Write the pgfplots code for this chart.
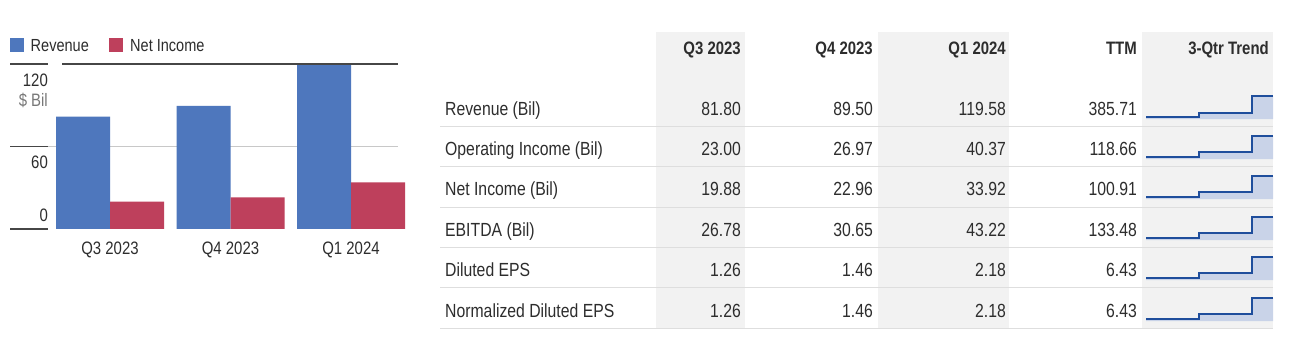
\documentclass[border=0pt]{standalone}
\usepackage{pgfplots}
\pgfplotsset{compat=1.18}
\usepackage{fontspec}
\setmainfont{Liberation Sans}[FakeStretch=0.83]
\definecolor{barblue}{RGB}{78,119,189}
\definecolor{barred}{RGB}{190,64,92}
\definecolor{gridgray}{RGB}{200,200,200}
\definecolor{darkrule}{RGB}{70,70,70}
\definecolor{txt}{RGB}{45,45,45}
\definecolor{subtxt}{RGB}{120,120,120}
\definecolor{colshade}{RGB}{242,242,242}
\definecolor{rowline}{RGB}{222,222,222}
\definecolor{sparkline}{RGB}{31,78,156}
\definecolor{sparkfill}{RGB}{201,211,232}
\newcommand{\TF}{\fontsize{19bp}{22bp}\selectfont}
\newcommand{\HD}{\fontsize{18bp}{21bp}\selectfont\bfseries}
\newcommand{\AF}{\fontsize{18bp}{21bp}\selectfont}
\newcommand{\spark}[4]{%
  \pgfmathsetmacro\sb{#2-(#4-#2)*2/21}%
  \begin{axis}[at={(1146bp,{(357-#1)*1bp})}, anchor=south west,
    scale only axis, width=127bp, height=21bp,
    xmin=0, xmax=2.4, ymin=#2, ymax=#4, hide axis, clip=false]
    \addplot[draw=none, fill=sparkfill] coordinates {(0,\sb) (0,#2) (1,#2) (1,#3) (2,#3) (2,#4) (2.4,#4) (2.4,\sb)} -- cycle;
    \addplot[const plot, draw=sparkline, line width=2bp, mark=none] coordinates {(0,#2) (1,#3) (2,#4) (2.4,#4)};
  \end{axis}}
\begin{document}
\begin{tikzpicture}
\fill[white] (0,0) rectangle (1292bp,357bp);
\path[use as bounding box] (0,0) rectangle (1292bp,357bp);
\begin{scope}[x=1bp,y=1bp]
  % legend
  \fill[barblue] (10,{357-38}) rectangle (23.5,{357-51.7});
  \node[anchor=base west, inner sep=0, text=txt, font=\fontsize{17.5bp}{20bp}\selectfont] at (30.5,{357-51}) {Revenue};
  \fill[barred] (109,{357-38}) rectangle (122.5,{357-51.7});
  \node[anchor=base west, inner sep=0, text=txt, font=\fontsize{17.5bp}{20bp}\selectfont] at (130,{357-51}) {Net Income};
  % table shading
  \fill[colshade] (656,{357-32}) rectangle (745,{357-329});
  \fill[colshade] (878,{357-32}) rectangle (1009,{357-329});
  \fill[colshade] (1142,{357-32}) rectangle (1273,{357-329});
  \foreach \yy in {127,167,207.5,248,288,328.5}
    \draw[rowline, line width=1bp] (440,{357-\yy}) -- (1273,{357-\yy});
  % headers
  \node[anchor=base east, inner sep=0, text=txt, font=\HD] at (741,{357-54.3}) {Q3 2023};
  \node[anchor=base east, inner sep=0, text=txt, font=\HD] at (873,{357-54.3}) {Q4 2023};
  \node[anchor=base east, inner sep=0, text=txt, font=\HD] at (1006,{357-54.3}) {Q1 2024};
  \node[anchor=base east, inner sep=0, text=txt, font=\HD] at (1137,{357-54.3}) {TTM};
  \node[anchor=base east, inner sep=0, text=txt, font=\HD] at (1269,{357-54.3}) {3-Qtr Trend};
  % rows
  \foreach \lab/\a/\b/\c/\d/\bl in {Revenue (Bil)/81.80/89.50/119.58/385.71/115,
      Operating Income (Bil)/23.00/26.97/40.37/118.66/155,
      Net Income (Bil)/19.88/22.96/33.92/100.91/195,
      EBITDA (Bil)/26.78/30.65/43.22/133.48/236,
      Diluted EPS/1.26/1.46/2.18/6.43/276,
      Normalized Diluted EPS/1.26/1.46/2.18/6.43/317}{
    \node[anchor=base west, inner sep=0, text=txt, font=\TF] at (445,{357-\bl}) {\lab};
    \node[anchor=base east, inner sep=0, text=txt, font=\TF] at (741,{357-\bl}) {\a};
    \node[anchor=base east, inner sep=0, text=txt, font=\TF] at (873,{357-\bl}) {\b};
    \node[anchor=base east, inner sep=0, text=txt, font=\TF] at (1006,{357-\bl}) {\c};
    \node[anchor=base east, inner sep=0, text=txt, font=\TF] at (1137,{357-\bl}) {\d};
  }
\end{scope}
% bar chart
\begin{axis}[at={(10bp,128bp)}, anchor=south west,
  scale only axis, width=388bp, height=165bp,
  xmin=-0.83, xmax=2.39, ymin=0, ymax=120,
  ybar=0pt, bar width=54bp, clip=false,
  axis line style={draw=none}, tick style={draw=none}, major tick length=0pt,
  xtick={0,1,2}, xticklabels={Q3 2023,Q4 2023,Q1 2024},
  xticklabel style={anchor=base, yshift=-26bp, inner sep=0pt, text=txt, font=\AF},
  ytick={60}, yticklabels={\mbox{}}, ymajorgrids, grid style={draw=gridgray, line width=1bp}]
  \addplot[fill=barblue, draw=none] coordinates {(0,81.80) (1,89.50) (2,119.58)};
  \addplot[fill=barred, draw=none] coordinates {(0,19.88) (1,22.96) (2,33.92)};
  \draw[darkrule, line width=1.3bp] (axis cs:-0.83,120) -- (axis cs:-0.5145,120);
  \draw[darkrule, line width=1.3bp] (axis cs:-0.398,120) -- (axis cs:2.39,120);
  \draw[darkrule, line width=1.3bp] (axis cs:-0.83,60) -- (axis cs:-0.5145,60);
  \draw[darkrule, line width=1.3bp] (axis cs:-0.83,0) -- (axis cs:-0.5145,0);
  \node[anchor=base east, inner sep=0, text=txt, font=\AF] at (axis cs:-0.5145,120) [yshift=-23bp] {120};
  \node[anchor=base east, inner sep=0, text=subtxt, font=\AF] at (axis cs:-0.5145,120) [yshift=-43bp] {\$ Bil};
  \node[anchor=base east, inner sep=0, text=txt, font=\AF] at (axis cs:-0.5145,60) [yshift=-22bp] {60};
  \node[anchor=base east, inner sep=0, text=txt, font=\AF] at (axis cs:-0.5145,0) [yshift=7bp] {0};
\end{axis}
% sparklines
\spark{117}{81.80}{89.50}{119.58}
\spark{157}{23.00}{26.97}{40.37}
\spark{197}{19.88}{22.96}{33.92}
\spark{238}{26.78}{30.65}{43.22}
\spark{278}{1.26}{1.46}{2.18}
\spark{319}{1.26}{1.46}{2.18}
\end{tikzpicture}
\end{document}
